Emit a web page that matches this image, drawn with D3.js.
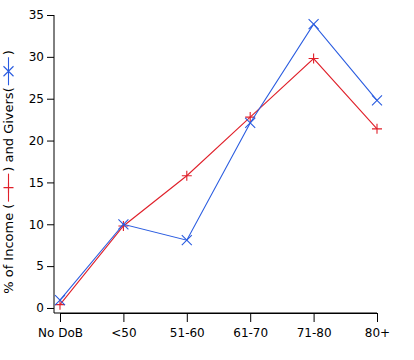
<!DOCTYPE html>
<html><head><meta charset="utf-8">
<script src="https://cdn.jsdelivr.net/npm/d3@7"></script>
<style>body{margin:0;background:#fff;} text{font-family:"DejaVu Sans",sans-serif;}</style>
</head><body>
<svg id="c" width="414" height="360"></svg>
<script>
const categories = ["No DoB","<50","51-60","61-70","71-80","80+"];
const income = [0.4, 9.8, 15.8, 22.8, 29.8, 21.4];
const givers = [0.95, 10.0, 8.1, 22.1, 33.9, 24.8];
const yTicks = [0,5,10,15,20,25,30,35];

const red = "#e0202a", blue = "#2a5ce0";
const svg = d3.select("#c");
const x = d3.scalePoint().domain(categories).range([60, 377]);
const y = d3.scaleLinear().domain([-0.6, 35]).range([313, 15]);

// axes
const yAx = svg.append("g").attr("transform","translate(54,0)")
  .call(d3.axisLeft(y).tickValues(yTicks).tickSize(7).tickSizeOuter(0).tickPadding(3));
const xAx = svg.append("g").attr("transform","translate(0,313)")
  .call(d3.axisBottom(x).tickSize(9).tickSizeOuter(0).tickPadding(6));
svg.append("line").attr("x1",54).attr("x2",377).attr("y1",313).attr("y2",313).attr("stroke","#000");
[yAx,xAx].forEach(a=>{
  a.select(".domain").attr("stroke","#000");
  a.selectAll("line").attr("stroke","#000");
  a.selectAll("text").attr("font-size",12).attr("fill","#000").style("font-family","DejaVu Sans, sans-serif");
});
yAx.select(".domain").attr("d","M0,15V313");

function series(vals, color, kind){
  const line = d3.line().x((d,i)=>x(categories[i])).y(d=>y(d));
  svg.append("path").datum(vals).attr("d",line).attr("fill","none").attr("stroke",color).attr("stroke-width",1.1);
  const g = svg.append("g");
  vals.forEach((v,i)=>marker(g, x(categories[i]), y(v), color, kind));
}
function marker(g, cx, cy, color, kind){
  const s = 5;
  const p = kind==="plus"
    ? `M${cx-s},${cy}H${cx+s}M${cx},${cy-s}V${cy+s}`
    : `M${cx-s},${cy-s}L${cx+s},${cy+s}M${cx-s},${cy+s}L${cx+s},${cy-s}`;
  g.append("path").attr("d",p).attr("stroke",color).attr("stroke-width",1.1).attr("fill","none");
}
series(income, red, "plus");
series(givers, blue, "cross");

// y-axis title with inline legend symbols
const tg = svg.append("g").attr("transform","translate(13,172) rotate(-90)");
const parts = ["% of Income (", "SYM_R", ") and Givers(", "SYM_B", ")"];
const symW = 32;
let widths = [];
const tmp = [];
parts.forEach(p=>{
  if(p.startsWith("SYM")){ widths.push(symW); tmp.push(null); }
  else { const t = tg.append("text").attr("font-size",13).text(p); widths.push(t.node().getComputedTextLength()); tmp.push(t); }
});
const total = d3.sum(widths);
let cx = -total/2;
parts.forEach((p,i)=>{
  if(p.startsWith("SYM")){
    const col = p==="SYM_R"?red:blue;
    tg.append("line").attr("x1",cx+2).attr("x2",cx+symW-2).attr("y1",-4.5).attr("y2",-4.5).attr("stroke",col).attr("stroke-width",1.1);
    marker(tg, cx+symW/2, -4.5, col, p==="SYM_R"?"plus":"cross");
  } else {
    tmp[i].attr("x",cx).attr("y",0);
  }
  cx += widths[i];
});
</script>
</body></html>
